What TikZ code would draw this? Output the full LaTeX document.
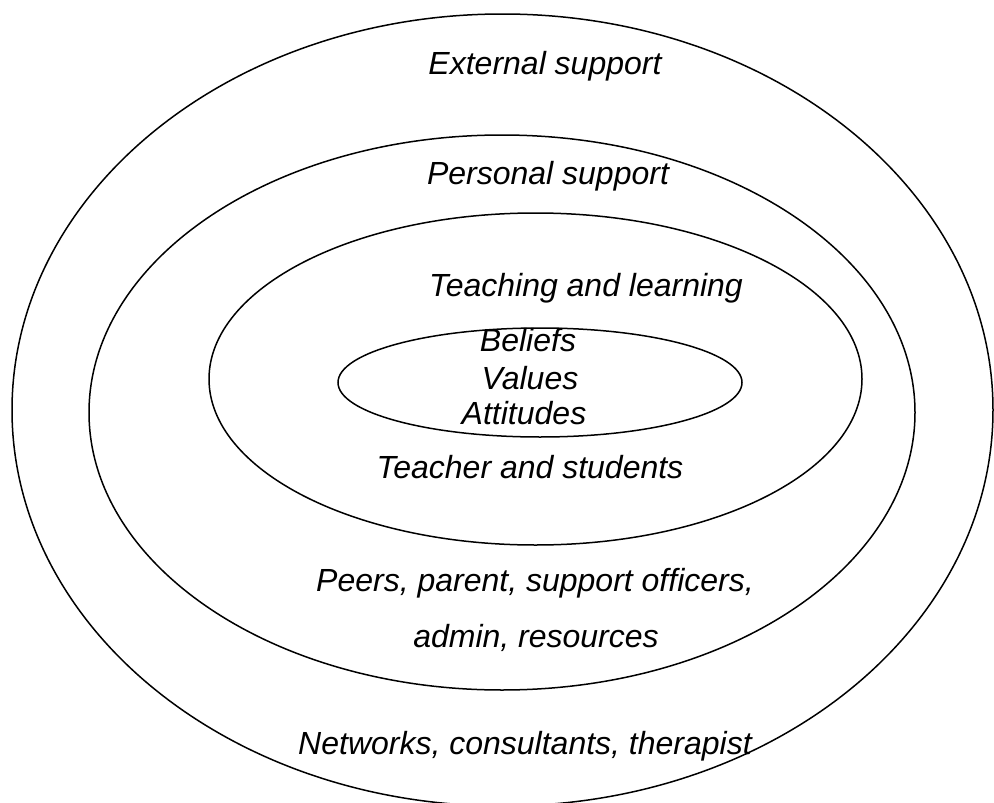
\documentclass[tikz,border=0pt]{standalone}
\usepackage{fontspec}
\setmainfont{Liberation Sans}
\begin{document}
\begin{tikzpicture}[x=1pt,y=-1pt,
  ring/.style={draw=black,line width=1.5pt},
  lbl/.style={font=\fontsize{32}{38}\selectfont\itshape,inner sep=0pt,anchor=base}]
\useasboundingbox (0,0) rectangle (994,803);
\clip (0,0) rectangle (994,803);
% rings
\draw[ring] (502.5,410) ellipse [x radius=490.5pt, y radius=396pt];
\draw[ring] (502,412.5) ellipse [x radius=413pt, y radius=277.5pt];
\draw[ring] (535.5,379) ellipse [x radius=326.5pt, y radius=166pt];
\draw[ring] (540,382.5) ellipse [x radius=202pt, y radius=54.5pt];
% labels
\node[lbl] (ext) at (545,74) {External support};
\node[lbl] (pers) at (548,184) {Personal support};
\node[lbl] (teach) at (586,296) {Teaching and learning};
\node[lbl] (bel) at (528,351) {Beliefs};
\node[lbl] (val) at (530,389) {Values};
\node[lbl] (att) at (524,424) {Attitudes};
\node[lbl] (ts) at (530,478) {Teacher and students};
\node[lbl] (peers) at (535,591) {Peers, parent, support officers,};
\node[lbl] (admin) at (536,647) {admin, resources};
\node[lbl] (net) at (525,754) {Networks, consultants, therapist};
\end{tikzpicture}
\end{document}
